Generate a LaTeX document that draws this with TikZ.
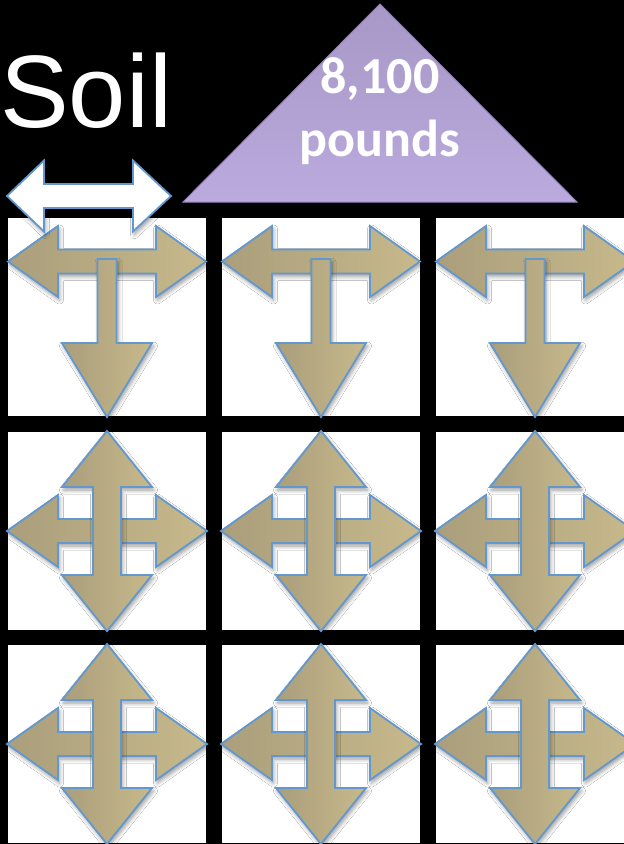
\documentclass[tikz,border=0pt]{standalone}
\usepackage{fontspec}
\usetikzlibrary{shadows.blur}
\newfontfamily\soilfont{Liberation Sans}
\newfontfamily\weightfont{Carlito}
\definecolor{arrowblue}{RGB}{98,152,205}
\definecolor{tanD}{RGB}{170,158,124}
\definecolor{tanL}{RGB}{199,185,139}
\definecolor{lilacT}{RGB}{168,152,198}
\definecolor{lilacB}{RGB}{186,170,222}
\definecolor{lilacE}{RGB}{150,130,190}
\tikzset{
  cell/.style={fill=white},
  tanarrow/.style={draw=arrowblue, line width=1.8pt, line join=miter,
    left color=tanD, right color=tanL,
    blur shadow={shadow xshift=1.5pt, shadow yshift=-3pt, shadow blur radius=4pt, shadow blur steps=6, shadow opacity=40}},
  whitearrow/.style={draw=arrowblue, line width=1.8pt, line join=miter, fill=white,
    blur shadow={shadow xshift=1.5pt, shadow yshift=-3pt, shadow blur radius=4pt, shadow blur steps=6, shadow opacity=40}},
  loadtri/.style={draw=lilacE, line width=1pt, top color=lilacT, bottom color=lilacB},
  tee/.pic={
    \path[cell] (0,0) rectangle (198,198);
    \path[tanarrow] (0,43.5) -- (50,8) -- (50,31.5) -- (148,31.5) -- (148,8) -- (198,43.5)
      -- (148,79) -- (148,55.5) -- (50,55.5) -- (50,79) -- cycle;
    \path[tanarrow] (89.5,41) -- (108.5,41) -- (108.5,125) -- (144,125) -- (99,199)
      -- (54,125) -- (89.5,125) -- cycle;
  },
  cross/.pic={
    \path[cell] (0,0) rectangle (198,198);
    \path[tanarrow] (-1,99) -- (50,63) -- (50,87) -- (148,87) -- (148,63) -- (199,99)
      -- (148,135) -- (148,111) -- (50,111) -- (50,135) -- cycle;
    \path[tanarrow] (99,-1) -- (144,55) -- (113,55) -- (113,143) -- (144,143) -- (99,199)
      -- (54,143) -- (85,143) -- (85,55) -- (54,55) -- cycle;
  }
}
\begin{document}
\begin{tikzpicture}[x=1pt,y=-1pt]
\path[use as bounding box] (0,0) rectangle (624,844);
\clip (0,0) rectangle (624,844);
\fill[black] (0,0) rectangle (624,844);
% load triangle
\path[loadtri] (380,4) -- (577,202) -- (183,202) -- cycle;
\node[anchor=base, text=white, font=\weightfont\bfseries\fontsize{52}{60}\selectfont, inner sep=0pt] (weightA) at (380,93) {8,100};
\node[anchor=base, text=white, font=\weightfont\bfseries\fontsize{52}{60}\selectfont, inner sep=0pt] (weightB) at (380,156) {pounds};
% soil label
\node[anchor=base west, text=white, font=\soilfont\fontsize{103}{110}\selectfont, inner sep=0pt] (soil) at (0,127) {Soil};
% grid of cells
\pic at (8,218) {tee};
\pic at (222,218) {tee};
\pic at (436,218) {tee};
\pic at (8,432) {cross};
\pic at (222,432) {cross};
\pic at (436,432) {cross};
\pic at (8,645) {cross};
\pic at (222,645) {cross};
\pic at (436,645) {cross};
% white double arrow
\path[whitearrow] (7,196) -- (44,160.5) -- (44,184) -- (133,184) -- (133,160.5) -- (171,196)
  -- (133,231.5) -- (133,208) -- (44,208) -- (44,231.5) -- cycle;
\end{tikzpicture}
\end{document}
